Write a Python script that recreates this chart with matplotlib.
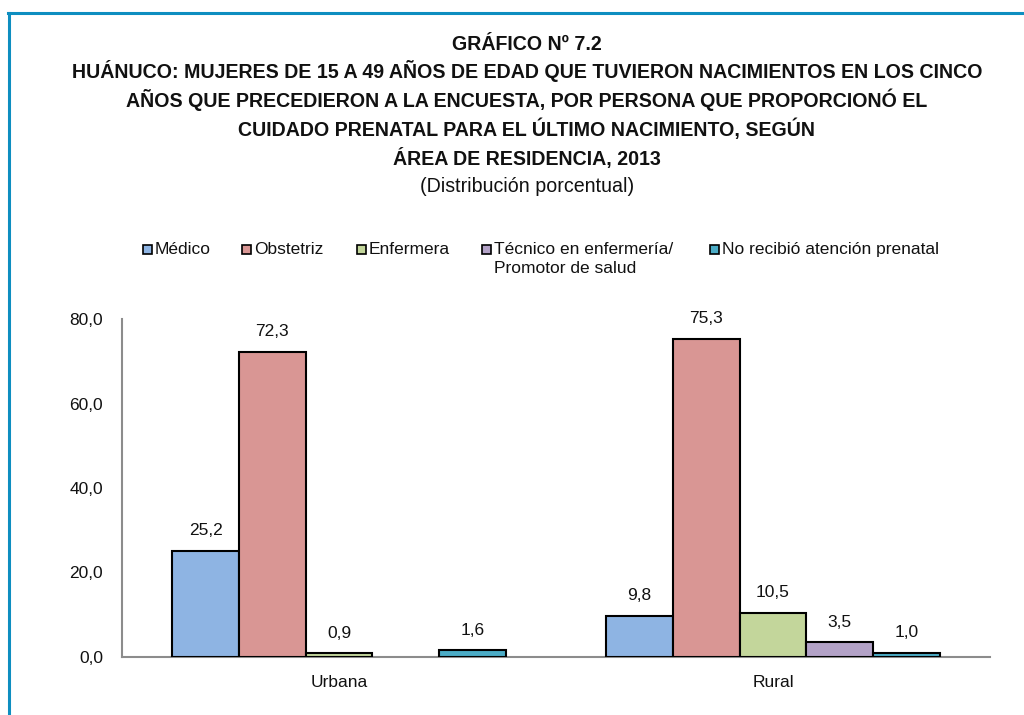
import matplotlib
matplotlib.use("Agg")
import matplotlib.pyplot as plt
import numpy as np
from matplotlib.patches import Rectangle
from matplotlib.lines import Line2D

plt.rcParams['font.family'] = ['Liberation Sans', 'DejaVu Sans']

categories = ["Urbana", "Rural"]
series_names = ["Médico", "Obstetriz", "Enfermera", "Técnico en enfermería/\nPromotor de salud",
                "No recibió atención prenatal"]
values = {
    "Médico": [25.2, 9.8],
    "Obstetriz": [72.3, 75.3],
    "Enfermera": [0.9, 10.5],
    "Técnico en enfermería/\nPromotor de salud": [np.nan, 3.5],
    "No recibió atención prenatal": [1.6, 1.0],
}
colors = ["#8EB4E3", "#D99694", "#C3D69B", "#B3A2C7", "#4BACC6"]
yticks = [0, 20, 40, 60, 80]
ytick_labels = ["0,0", "20,0", "40,0", "60,0", "80,0"]

W, H = 1024, 715
fig = plt.figure(figsize=(W / 100, H / 100), dpi=100)

# frame lines (top and left)
fig.add_artist(Line2D([8 / W, 1.0], [1 - 12.5 / H, 1 - 12.5 / H], color="#0E8EC0", lw=2.2))
fig.add_artist(Line2D([9 / W, 9 / W], [0, 1 - 12.5 / H], color="#0E8EC0", lw=2.2))

# titles
title_lines = [
    ("GRÁFICO Nº 7.2", 50, "bold"),
    ("HUÁNUCO: MUJERES DE 15 A 49 AÑOS DE EDAD QUE TUVIERON NACIMIENTOS EN LOS CINCO", 78, "bold"),
    ("AÑOS QUE PRECEDIERON A LA ENCUESTA, POR PERSONA QUE PROPORCIONÓ EL", 107, "bold"),
    ("CUIDADO PRENATAL PARA EL ÚLTIMO NACIMIENTO, SEGÚN", 136, "bold"),
    ("ÁREA DE RESIDENCIA, 2013", 164.5, "bold"),
    ("(Distribución porcentual)", 192, "normal"),
]
for txt, y, wt in title_lines:
    fig.text(527 / W, 1 - y / H, txt, ha="center", va="baseline", fontsize=14.1, fontweight=wt,
             color="#111111")

# axes
ax = fig.add_axes([122 / W, 1 - 657 / H, (990 - 122) / W, (657 - 319) / H])
x = np.arange(len(categories))
n = len(series_names)
bw = 0.1536
for i, (name, col) in enumerate(zip(series_names, colors)):
    vals = np.array(values[name], dtype=float)
    pos = x + (i - (n - 1) / 2) * bw
    for p, v in zip(pos, vals):
        if np.isnan(v):
            continue
        ax.bar(p, v, width=bw, color=col, edgecolor="black", linewidth=1.5, zorder=3)
        ax.annotate(f"{v:.1f}".replace(".", ","), (p, v), xytext=(0, 9), textcoords="offset points",
                    ha="center", va="bottom", fontsize=12.5, color="#111111")

ax.set_xlim(-0.5, 1.5)
ax.set_ylim(0, 80)
ax.set_yticks(yticks)
ax.set_yticklabels(ytick_labels, fontsize=12.5, color="#111111")
ax.set_xticks(x)
ax.set_xticklabels(categories, fontsize=12.5, color="#111111")
ax.tick_params(axis="both", length=0)
ax.tick_params(axis="y", pad=13.5)
ax.tick_params(axis="x", pad=13)
for s in ["top", "right"]:
    ax.spines[s].set_visible(False)
for s in ["left", "bottom"]:
    ax.spines[s].set_color("#8C8C8C")
    ax.spines[s].set_linewidth(1.5)

# legend (manual)
leg_x = [143, 242, 357, 482, 710]
for name, col, lx in zip(series_names, colors, leg_x):
    fig.add_artist(Rectangle((lx / W, 1 - 254 / H), 9 / W, 9 / H, facecolor=col, edgecolor="black",
                             linewidth=1.2, transform=fig.transFigure))
    fig.text((lx + 12) / W, 1 - 242 / H, name, ha="left", va="top", fontsize=12.5, color="#111111",
             linespacing=1.3)

fig.savefig("out.png", dpi=100)
